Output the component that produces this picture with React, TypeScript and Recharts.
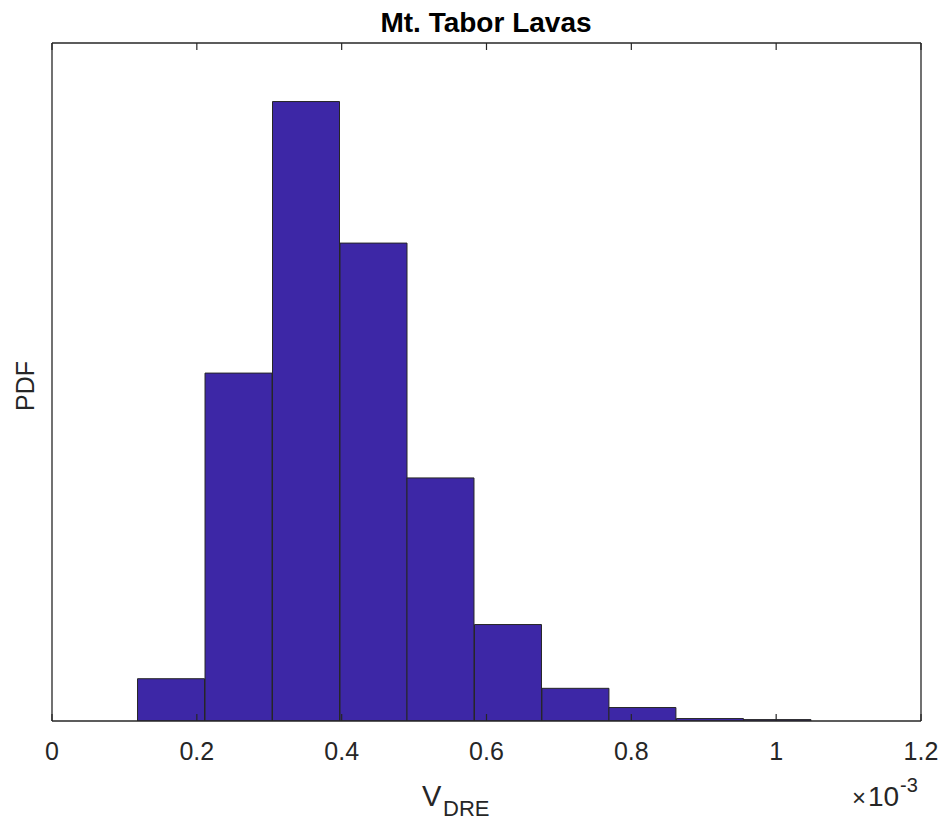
import React from 'react';
import { BarChart, Bar, XAxis, YAxis, ReferenceLine } from 'recharts';

// bin edges in units of 1e-3 (V_DRE)
const binEdges = [0.1174, 0.2113, 0.3038, 0.3977, 0.4902, 0.5827, 0.6766, 0.769, 0.8616, 0.9555, 1.048];
const pdfValues = [242, 1991, 3545, 2735, 1391, 552, 187, 77, 14, 8];
const xTicks = [0, 0.2, 0.4, 0.6, 0.8, 1, 1.2];
const tickLabels = ['0', '0.2', '0.4', '0.6', '0.8', '1', '1.2'];

const data = pdfValues.map((v, i) => ({
  center: (binEdges[i] + binEdges[i + 1]) / 2,
  pdf: v,
}));

const AXIS = '#262626';
const FONT = '"Liberation Sans", Arial, Helvetica, sans-serif';
const Y_MAX = 3880;
const TICK_LEN = 40; // ~7px in data units

const BottomTick = (props: any) => {
  const { x, y, payload } = props;
  const idx = xTicks.indexOf(payload.value);
  return (
    <text x={x} y={y + 39} textAnchor="middle" fill={AXIS} fontSize={25} fontFamily={FONT}>
      {idx >= 0 ? tickLabels[idx] : payload.value}
    </text>
  );
};

const App: React.FC = () => {
  return (
    <div style={{ position: 'absolute', left: 0, top: 0, width: 946, height: 825, background: '#fff' }}>
      <BarChart
        width={946}
        height={825}
        data={data}
        margin={{ top: 42, right: 24, left: 51, bottom: 64 }}
        barCategoryGap={0}
        barGap={0}
      >
        <XAxis
          xAxisId="b"
          dataKey="center"
          type="number"
          domain={[0, 1.2]}
          ticks={xTicks}
          height={40}
          tickLine={false}
          tickSize={0}
          tickMargin={0}
          axisLine={{ stroke: AXIS, strokeWidth: 1.3 }}
          tick={<BottomTick />}
          allowDataOverflow
        />
        <XAxis
          xAxisId="t"
          orientation="top"
          type="number"
          domain={[0, 1.2]}
          height={1}
          tick={false}
          tickLine={false}
          axisLine={{ stroke: AXIS, strokeWidth: 1.3 }}
          allowDataOverflow
        />
        <YAxis
          yAxisId="l"
          domain={[0, Y_MAX]}
          width={1}
          tick={false}
          tickLine={false}
          axisLine={{ stroke: AXIS, strokeWidth: 1.3 }}
          allowDataOverflow
        />
        <YAxis
          yAxisId="r"
          orientation="right"
          domain={[0, Y_MAX]}
          width={1}
          tick={false}
          tickLine={false}
          axisLine={{ stroke: AXIS, strokeWidth: 1.3 }}
        />
        {/* inward ticks on the bottom edge, drawn first so the bars cover them */}
        {xTicks.map((t) => (
          <ReferenceLine
            key={`b${t}`}
            xAxisId="b"
            yAxisId="l"
            segment={[{ x: t, y: 0 }, { x: t, y: TICK_LEN }]}
            stroke={AXIS}
            strokeWidth={1.2}
            ifOverflow="visible"
          />
        ))}
        <Bar
          xAxisId="b"
          yAxisId="l"
          dataKey="pdf"
          fill="#3d27a6"
          stroke="#262626"
          strokeWidth={1}
          isAnimationActive={false}
        />
        {/* inward ticks on the top edge */}
        {xTicks.map((t) => (
          <ReferenceLine
            key={`t${t}`}
            xAxisId="b"
            yAxisId="l"
            segment={[{ x: t, y: Y_MAX }, { x: t, y: Y_MAX - TICK_LEN }]}
            stroke={AXIS}
            strokeWidth={1.2}
            ifOverflow="visible"
          />
        ))}
      </BarChart>
      <svg width={946} height={825} style={{ position: 'absolute', left: 0, top: 0, pointerEvents: 'none' }}>
        <text x={486} y={32} textAnchor="middle" fontSize={28} fontWeight="bold" fontFamily={FONT} fill="#000">
          Mt. Tabor Lavas
        </text>
        <text
          x={34}
          y={386}
          transform="rotate(-90 34 386)"
          textAnchor="middle"
          fontSize={25}
          fontFamily={FONT}
          fill={AXIS}
        >
          PDF
        </text>
        <text x={422} y={806} fontSize={29} fontFamily={FONT} fill={AXIS}>V</text>
        <text x={443} y={816} fontSize={22} fontFamily={FONT} fill={AXIS}>DRE</text>
        <text x={852} y={806} fontSize={24} fontFamily={FONT} fill={AXIS}>×</text>
        <text x={868} y={806} fontSize={28} fontFamily={FONT} fill={AXIS}>10</text>
        <text x={900} y={792} fontSize={20} fontFamily={FONT} fill={AXIS}>-3</text>
      </svg>
    </div>
  );
};

export default App;
